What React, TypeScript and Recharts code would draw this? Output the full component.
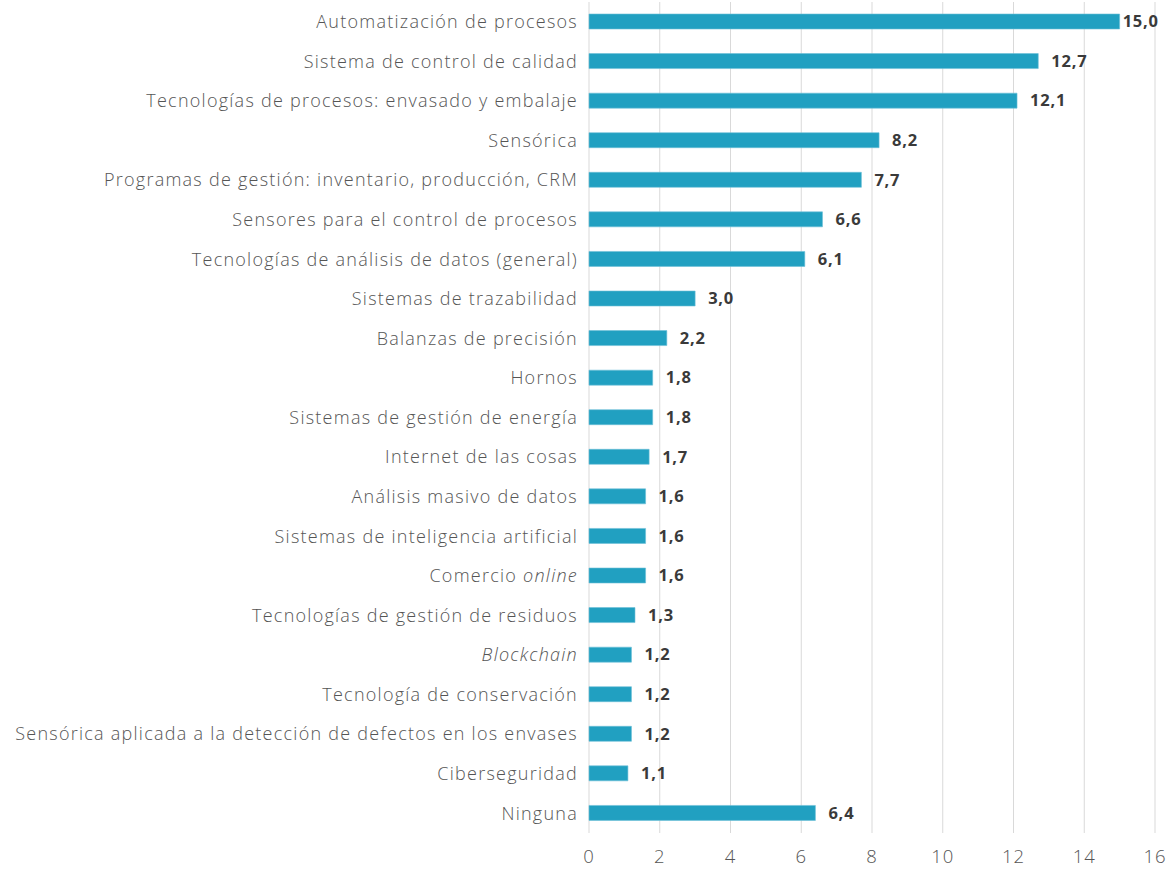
import { BarChart, Bar, XAxis, YAxis, CartesianGrid, LabelList } from 'recharts';

const categories = [
    'Automatización de procesos',
    'Sistema de control de calidad',
    'Tecnologías de procesos: envasado y embalaje',
    'Sensórica',
    'Programas de gestión: inventario, producción, CRM',
    'Sensores para el control de procesos',
    'Tecnologías de análisis de datos (general)',
    'Sistemas de trazabilidad',
    'Balanzas de precisión',
    'Hornos',
    'Sistemas de gestión de energía',
    'Internet de las cosas',
    'Análisis masivo de datos',
    'Sistemas de inteligencia artificial',
    'Comercio online',
    'Tecnologías de gestión de residuos',
    'Blockchain',
    'Tecnología de conservación',
    'Sensórica aplicada a la detección de defectos en los envases',
    'Ciberseguridad',
    'Ninguna',
];

const values = [15.0, 12.7, 12.1, 8.2, 7.7, 6.6, 6.1, 3.0, 2.2, 1.8, 1.8, 1.7, 1.6, 1.6, 1.6, 1.3, 1.2, 1.2, 1.2, 1.1, 6.4];

// words written in italics in the original
const italicWords = ['online', 'Blockchain'];

const xTicks = [0, 2, 4, 6, 8, 10, 12, 14, 16];

const data = categories.map((name, i) => ({ name, value: values[i] }));
const maxValue = Math.max(...values);

const FONT = '"Open Sans", sans-serif';

function CategoryTick({ x, y, payload }: any) {
    const words = String(payload.value).split(' ');
    return (
        <text
            x={x}
            y={y}
            dy="0.35em"
            textAnchor="end"
            fill="#555"
            fontSize={18}
            fontWeight={300}
            fontFamily={FONT}
            letterSpacing={1.25}
        >
            {words.map((w, i) => (
                <tspan key={i} fontStyle={italicWords.includes(w) ? 'italic' : 'normal'}>
                    {(i > 0 ? ' ' : '') + w}
                </tspan>
            ))}
        </text>
    );
}

function ValueLabel({ x, y, width, height, value }: any) {
    // the largest bar's label sits tight against the bar end
    const gap = value === maxValue ? 3 : 13;
    return (
        <text
            x={x + width + gap}
            y={y + height / 2}
            dy="0.35em"
            fill="#3a3a3a"
            fontSize={16.5}
            fontWeight={700}
            fontFamily={FONT}
            letterSpacing={0.8}
        >
            {Number(value).toFixed(1).replace('.', ',')}
        </text>
    );
}

export default function App() {
    return (
        <div style={{ position: 'absolute', left: 0, top: 0, width: 1172, height: 871, background: '#fff' }}>
            <BarChart
                width={1172}
                height={871}
                data={data}
                layout="vertical"
                margin={{ top: 2, right: 17, bottom: 0, left: 0 }}
            >
                <CartesianGrid horizontal={false} stroke="#d9d9d9" />
                <XAxis
                    type="number"
                    domain={[0, 16]}
                    ticks={xTicks}
                    axisLine={false}
                    tickLine={false}
                    tickMargin={11}
                    height={38}
                    interval={0}
                    tick={{ fill: '#555', fontSize: 18.5, fontWeight: 300, fontFamily: FONT, letterSpacing: 1 }}
                />
                <YAxis
                    type="category"
                    dataKey="name"
                    width={589}
                    axisLine={false}
                    tickLine={false}
                    tickMargin={5}
                    interval={0}
                    tick={<CategoryTick />}
                />
                <Bar dataKey="value" fill="#21a0c1" stroke="#6cc0d6" strokeWidth={0.6} barSize={15} isAnimationActive={false}>
                    <LabelList dataKey="value" content={<ValueLabel />} />
                </Bar>
            </BarChart>
        </div>
    );
}
